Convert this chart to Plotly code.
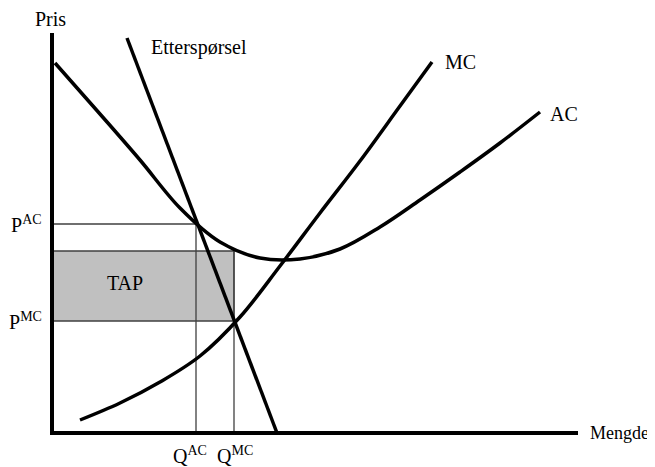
import plotly.graph_objects as go

# Quantities (Q) and prices (P), measured from the origin of the diagram
ac_q = [3, 48, 88, 128, 168, 208, 248, 288, 328, 368, 408, 448, 488]
ac_p = [370, 319, 273, 225, 191, 175, 174, 184, 206, 233, 261, 290, 321]

mc_q = [28, 68, 108, 148, 188, 228, 268, 308, 348, 380]
mc_p = [13, 30, 51, 77, 116, 167, 220, 272, 327, 371]

demand_q = [75, 225]
demand_p = [395, 0]

q_ac, q_mc = 144, 182
p_ac, p_mc = 209, 112
tap_top = 182

axis_q_max, axis_p_max = 526, 400

FONT = "Liberation Serif, Times New Roman, serif"
fig = go.Figure()

# TAP rectangle
thin = dict(color="#404040", width=1.3)
fig.add_trace(go.Scatter(x=[0, q_mc, q_mc, 0, 0], y=[p_mc, p_mc, tap_top, tap_top, p_mc],
                         fill="toself", fillcolor="#c0c0c0", mode="lines",
                         line=thin, hoverinfo="skip"))
fig.add_trace(go.Scatter(x=[0, q_ac, q_ac], y=[p_ac, p_ac, 0], mode="lines", line=thin))
fig.add_trace(go.Scatter(x=[q_mc, q_mc], y=[tap_top, 0], mode="lines", line=thin))

thick = dict(color="black", width=3.5)
fig.add_trace(go.Scatter(x=ac_q, y=ac_p, mode="lines", line=dict(thick, shape="spline", smoothing=1)))
fig.add_trace(go.Scatter(x=mc_q, y=mc_p, mode="lines", line=dict(thick, shape="spline", smoothing=1)))
fig.add_trace(go.Scatter(x=demand_q, y=demand_p, mode="lines", line=thick))

# axes
ax = dict(color="black", width=4)
fig.add_trace(go.Scatter(x=[0, 0, axis_q_max], y=[axis_p_max, 0, 0], mode="lines", line=ax))

tf = dict(family=FONT, size=20, color="black")
ann = [
    dict(x=-2, y=414, text="Pris", xanchor="center"),
    dict(x=97, y=386, text="Etterspørsel", xanchor="left"),
    dict(x=391, y=371, text="MC", xanchor="left"),
    dict(x=496, y=319, text="AC", xanchor="left"),
    dict(x=-8, y=p_ac, text="P<sup>AC</sup>", xanchor="right"),
    dict(x=-8, y=p_mc, text="P<sup>MC</sup>", xanchor="right"),
    dict(x=q_ac - 6, y=-22, text="Q<sup>AC</sup>", xanchor="center"),
    dict(x=q_mc + 1, y=-22, text="Q<sup>MC</sup>", xanchor="center"),
    dict(x=73, y=150, text="TAP", xanchor="center"),
]
for a in ann:
    fig.add_annotation(showarrow=False, yanchor="middle", font=tf, xref="x", yref="y", **a)
fig.add_annotation(showarrow=False, yanchor="middle", xanchor="left", xref="x", yref="y",
                   x=536, y=0, text="Mengde", font=dict(family=FONT, size=18, color="black"))

# page body adds an 8px offset; ranges compensate so the origin sits where the reference has it
fig.update_layout(width=655, height=467, margin=dict(l=0, r=0, t=0, b=0),
                  paper_bgcolor="white", plot_bgcolor="white", showlegend=False,
                  xaxis=dict(range=[-44, 611], visible=False, fixedrange=True),
                  yaxis=dict(range=[-42, 425], visible=False, fixedrange=True))
fig.write_html("out.html")
